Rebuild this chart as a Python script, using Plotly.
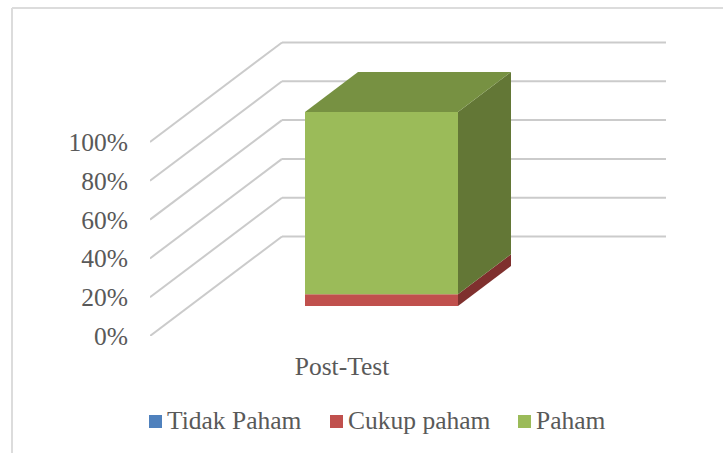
import plotly.graph_objects as go

categories = ["Post-Test"]
series_names = ["Tidak Paham", "Cukup paham", "Paham"]
tidak_paham = [0]
cukup_paham = [6]
paham = [94]
y_ticks = [0, 20, 40, 60, 80, 100]

front_colors = ["#4F81BD", "#C0504D", "#9BBB59"]
side_colors = ["#2F4D71", "#7F302E", "#637736"]
top_color = "#779142"
grid_color = "#CBCBCB"
text_color = "#595959"
font_name = "Liberation Serif"

# plot area in pixels, the axes run in pixels on x and in percent on y
W, H = 723, 453
left, right, top, bottom = 150, 666, 30, 336
px_per_pct = 1.94
x_max = right - left
y_max = (bottom - top) / px_per_pct


def pct(pixels):
    return pixels / px_per_pct


def paper_x(px):
    return (px - left) / x_max


def paper_y(py):
    return (bottom - py) / (bottom - top)


# oblique depth of the floor and of the column
floor_dx, floor_dy = 132, pct(99.5)
bar_dx, bar_dy = 53, pct(40)
bar_left, bar_right = 155, 308
bar_y0 = pct(30)
label_x = 192

all_values = [tidak_paham, cukup_paham, paham]
fig = go.Figure()

# front faces
base = bar_y0
for name, values, color in zip(series_names, all_values, front_colors):
    fig.add_trace(go.Bar(
        x=[(bar_left + bar_right) / 2],
        y=values,
        base=[base],
        width=bar_right - bar_left,
        name=name,
        showlegend=False,
        marker=dict(color=color, line=dict(width=0)),
    ))
    base += values[0]

# side faces, one per stacked segment
y0 = bar_y0
for name, values, color in zip(series_names, all_values, side_colors):
    y1 = y0 + values[0]
    fig.add_trace(go.Scatter(
        x=[bar_right, bar_right + bar_dx, bar_right + bar_dx, bar_right, bar_right],
        y=[y0, y0 + bar_dy, y1 + bar_dy, y1, y0],
        mode="lines",
        line=dict(width=0),
        fill="toself",
        fillcolor=color,
        showlegend=False,
        name=name,
    ))
    y0 = y1

# top face
fig.add_trace(go.Scatter(
    x=[bar_left, bar_right, bar_right + bar_dx, bar_left + bar_dx, bar_left],
    y=[y0, y0, y0 + bar_dy, y0 + bar_dy, y0],
    mode="lines",
    line=dict(width=0),
    fill="toself",
    fillcolor=top_color,
    showlegend=False,
    name=series_names[2],
))

# gridlines on the side wall and the back wall
shapes = []
for v in y_ticks:
    for x0, y_a, x1, y_b in [(0, v, floor_dx, v + floor_dy),
                             (floor_dx, v + floor_dy, x_max, v + floor_dy)]:
        shapes.append(dict(type="line", xref="x", yref="y", x0=x0, y0=y_a, x1=x1, y1=y_b,
                           layer="below", line=dict(color=grid_color, width=2)))

# chart frame, only the left and top edges are in the picture
frame = dict(color="#DCDCDC", width=2)
shapes.append(dict(type="line", xref="paper", yref="paper", x0=paper_x(12), x1=paper_x(12),
                   y0=paper_y(H + 5), y1=paper_y(8), line=frame))
shapes.append(dict(type="line", xref="paper", yref="paper", x0=paper_x(12), x1=paper_x(W + 5),
                   y0=paper_y(8), y1=paper_y(8), line=frame))

# legend drawn by hand, the swatch sits closer to its text than the native legend allows
annotations = []
for name, color, swatch_x in zip(series_names, front_colors, [149, 330, 518]):
    shapes.append(dict(type="rect", xref="paper", yref="paper",
                       x0=paper_x(swatch_x), x1=paper_x(swatch_x + 13),
                       y0=paper_y(428), y1=paper_y(415),
                       fillcolor=color, line=dict(width=0)))
    annotations.append(dict(xref="paper", yref="paper", x=paper_x(swatch_x + 19), y=paper_y(420),
                            text=name, showarrow=False, xanchor="left", yanchor="middle",
                            xshift=-3))

fig.update_layout(
    width=W,
    height=H,
    margin=dict(l=left, r=W - right, t=top, b=H - bottom, pad=0),
    barmode="overlay",
    showlegend=False,
    paper_bgcolor="white",
    plot_bgcolor="rgba(0,0,0,0)",
    font=dict(family=font_name, size=25.5, color=text_color),
    shapes=shapes,
    annotations=annotations,
    xaxis=dict(
        range=[0, x_max],
        tickmode="array",
        tickvals=[label_x],
        ticktext=categories,
        ticks="outside",
        ticklen=7,
        tickcolor="rgba(0,0,0,0)",
        showgrid=False,
        zeroline=False,
        showline=False,
    ),
    yaxis=dict(
        range=[0, y_max],
        tickmode="array",
        tickvals=y_ticks,
        ticktext=[f"{v}%" for v in y_ticks],
        ticks="outside",
        ticklen=16,
        tickcolor="rgba(0,0,0,0)",
        showgrid=False,
        zeroline=False,
        showline=False,
    ),
)

fig.write_html("out.html", config={"displayModeBar": False},
               post_script="document.body.style.margin='0';")
